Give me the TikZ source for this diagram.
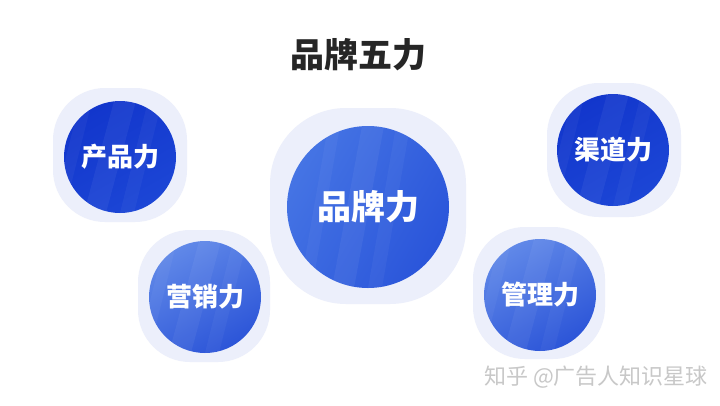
\documentclass[tikz,border=0pt]{standalone}
\usepackage{fontspec}
\newfontfamily\cjk{Noto Sans CJK SC}
\usetikzlibrary{positioning}
\definecolor{padcol}{HTML}{ECEFFB}
\definecolor{deepblue}{HTML}{1236CC}
\definecolor{deepblue2}{HTML}{1C46D6}
\definecolor{midblue}{HTML}{4574E4}
\definecolor{midblue2}{HTML}{2A55DA}
\definecolor{liteblue}{HTML}{6088E8}
\definecolor{liteblue2}{HTML}{2C55D8}
\definecolor{marktext}{HTML}{C8C8C8}
\tikzset{
  pad/.style={rectangle,fill=padcol,draw=none,rounded corners=52pt,minimum width=#1,minimum height=#1},
  ball/.style={circle,inner sep=0pt,minimum size=#1,text=white,
    path picture={
      \fill[white,opacity=0.05] ([xshift=-6pt]path picture bounding box.north) -- ++(22pt,0)
        -- ([xshift=-14pt]path picture bounding box.south) -- ++(-22pt,0) -- cycle;
      \fill[white,opacity=0.04] ([xshift=28pt]path picture bounding box.north) -- ++(14pt,0)
        -- ([xshift=14pt]path picture bounding box.south) -- ++(-14pt,0) -- cycle;
      \fill[white,opacity=0.04] ([xshift=-40pt]path picture bounding box.north) -- ++(12pt,0)
        -- ([xshift=-56pt]path picture bounding box.south) -- ++(-12pt,0) -- cycle;
    }},
  deep/.style={top color=deepblue,bottom color=deepblue2,shading angle=30},
  lite/.style={top color=liteblue,bottom color=liteblue2,shading angle=30},
  small/.style={font=\cjk\bfseries\fontsize{26}{26}\selectfont},
  big/.style={font=\cjk\bfseries\fontsize{34}{34}\selectfont},
}

\begin{document}
\begin{tikzpicture}[x=1pt,y=-1pt]
\useasboundingbox[fill=white] (0,0) rectangle (720,405);

% title
\node[font=\cjk\bfseries\fontsize{34}{34}\selectfont,text=black!85] (title) at (358,55) {品牌五力};

% soft pads
\node[pad=134pt] (padprod) at (120,155) {};
\node[pad=134pt] (padchan) at (614,150) {};
\node[pad=196pt,rounded corners=76pt] (padbrand) at (368,206) {};
\node[pad=132pt] (padmkt) at (204,296) {};
\node[pad=132pt] (padmgmt) at (539,293) {};

% circles
\node[ball=112pt,deep,small] (prod) at (120,157) {产品力};
\node[ball=112pt,deep,small] (chan) at (613,150) {渠道力};
\node[ball=162pt,top color=midblue,bottom color=midblue2,shading angle=60,big] (brand) at (368,207) {品牌力};
\node[ball=112pt,lite,small] (mkt) at (205,297) {营销力};
\node[ball=112pt,lite,small] (mgmt) at (540,295) {管理力};

% watermark
\node[font=\cjk\fontsize{22}{22}\selectfont,text=marktext] (mark) at (596,377) {知乎 @广告人知识星球};
\end{tikzpicture}
\end{document}
